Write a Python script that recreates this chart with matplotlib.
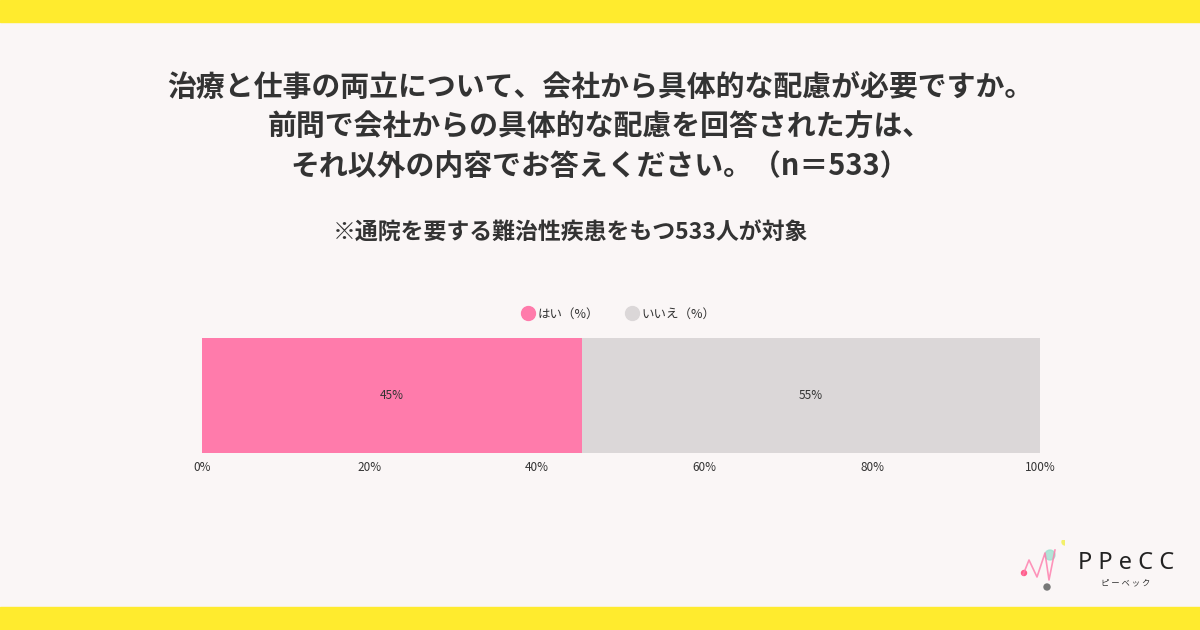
import matplotlib
matplotlib.use("Agg")
import matplotlib.pyplot as plt
from matplotlib.patches import Rectangle, Circle
from matplotlib.lines import Line2D

plt.rcParams['font.family'] = ['Noto Sans CJK JP', 'DejaVu Sans']

series = ["はい（%）", "いいえ（%）"]
values = [45.3, 54.7]
labels = ["45%", "55%"]
colors = ["#FF7BAB", "#DBD7D8"]
ticks = [0, 20, 40, 60, 80, 100]
tick_labels = ["0%", "20%", "40%", "60%", "80%", "100%"]

title_lines = [
    "治療と仕事の両立について、会社から具体的な配慮が必要ですか。",
    "前問で会社からの具体的な配慮を回答された方は、",
    "それ以外の内容でお答えください。（n＝533）",
]
subtitle = "※通院を要する難治性疾患をもつ533人が対象"

W, H = 1200, 630
fig = plt.figure(figsize=(12, 6.3), dpi=100)
fig.patch.set_facecolor("#FAF6F6")

# yellow bands
fig.add_artist(Rectangle((0, 1 - 22 / H), 1, 22 / H, transform=fig.transFigure,
                         color="#FFEB2E", zorder=0))
fig.add_artist(Rectangle((0, 0), 1, 23 / H, transform=fig.transFigure,
                         color="#FFEB2E", zorder=0))

text_color = "#333333"
for line, y in zip(title_lines, [87, 127, 166]):
    fig.text(0.5, 1 - y / H, line, ha="center", va="center", fontsize=20.8,
             fontweight="bold", color=text_color)
fig.text(570 / W, 1 - 232 / H, subtitle, ha="center", va="center", fontsize=16.5,
         fontweight="bold", color=text_color)

# axes for bar
ax = fig.add_axes([202 / W, 1 - 453 / H, (1040 - 202) / W, (453 - 338) / H])
ax.set_facecolor("none")
left = 0
for name, v, lab, c in zip(series, values, labels, colors):
    ax.barh([0], [v], left=left, height=1.0, color=c, label=name)
    ax.text(left + v / 2, 0, lab, ha="center", va="center", fontsize=8.5,
            color=text_color)
    left += v
ax.set_xlim(0, 100)
ax.set_ylim(-0.5, 0.5)
ax.set_xticks(ticks)
ax.set_xticklabels(tick_labels, fontsize=8.5, color=text_color)
ax.tick_params(axis="x", length=0, pad=6)
ax.set_yticks([])
for s in ax.spines.values():
    s.set_visible(False)

handles = [Line2D([0], [0], marker="o", linestyle="none", markersize=10,
                  markerfacecolor=c, markeredgecolor=c) for c in colors]
fig.legend(handles, series, loc="center", bbox_to_anchor=(619 / W, 1 - 314 / H),
           ncol=2, frameon=False, fontsize=9, handlelength=0.8,
           columnspacing=2.2, handletextpad=0.4, labelcolor=text_color)

# logo
fig.text(1126 / W, 1 - 563 / H, "P P e C C", ha="center", va="center", fontsize=17,
         color="#222222", family=["Noto Sans", "DejaVu Sans"], fontweight="normal")
fig.text(1126 / W, 1 - 583 / H, "ピ ー ベ ッ ク", ha="center", va="center", fontsize=6,
         color="#333333")
lax = fig.add_axes([1015 / W, 1 - 595 / H, 50 / W, 55 / H])
lax.set_xlim(0, 50)
lax.set_ylim(0, 55)
lax.axis("off")
lax.plot([8, 14, 22, 30, 34, 40], [20, 35, 18, 42, 15, 45], color="#FF7BAB", lw=1.2, alpha=0.8)
lax.add_patch(Circle((35, 40), 5, color="#9FE0D0", alpha=0.8))
lax.add_patch(Circle((50, 53), 3, color="#F3F06A"))
lax.add_patch(Circle((9, 22), 2.5, color="#FF5E8A"))
lax.add_patch(Circle((32, 8), 3, color="#777777"))

fig.savefig("out.png", dpi=100, facecolor=fig.get_facecolor())
